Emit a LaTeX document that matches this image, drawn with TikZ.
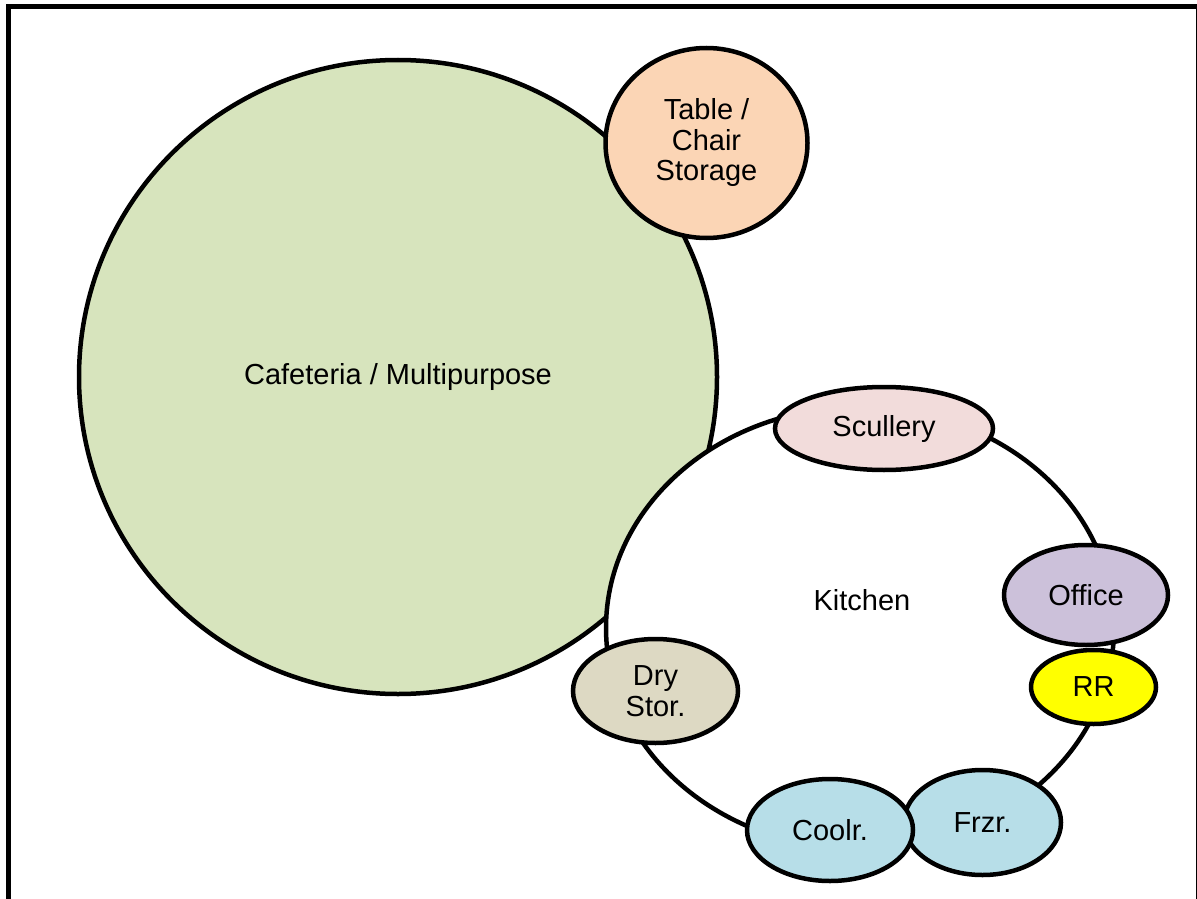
\documentclass[tikz,border=0pt]{standalone}
\usepackage{fontspec}
\setmainfont{Liberation Sans}
\usetikzlibrary{shapes.geometric}
\definecolor{cafegreen}{HTML}{D7E4BD}
\definecolor{storeorange}{HTML}{FBD5B5}
\definecolor{scullpink}{HTML}{F2DCDB}
\definecolor{officelilac}{HTML}{CCC1DA}
\definecolor{drytan}{HTML}{DDD9C3}
\definecolor{coldblue}{HTML}{B7DEE8}
\definecolor{rryellow}{HTML}{FFFF00}
\tikzset{
  roomtext/.style={font=\fontsize{29}{30.5}\selectfont},
  room/.style={ellipse, draw=black, line width=4.5pt, inner sep=0pt, align=center, roomtext},
}
\begin{document}
\begin{tikzpicture}[x=1pt, y=-1pt]
\useasboundingbox (0,0) rectangle (1197,899);
\fill[white] (0,0) rectangle (1197,899);
% outer frame
\draw[line width=5pt] (8.5,6.5) rectangle (1198,901);

% main spaces
\node[room, fill=cafegreen, minimum width=638pt, minimum height=634pt] (cafe) at (398,377) {Cafeteria / Multipurpose};
\node[room, fill=storeorange, minimum width=202pt, minimum height=190pt] (store) at (706.5,143) {Table /\\Chair\\Storage};
\node[room, fill=white, minimum width=508pt, minimum height=442pt] (kitchen) at (860,628) {};
\node[roomtext] (kitchenlabel) at (862,600) {Kitchen};

% kitchen support spaces
\node[room, fill=scullpink, minimum width=218pt, minimum height=83pt] (scullery) at (884,428.5) {Scullery};
\node[room, fill=drytan, minimum width=165pt, minimum height=104pt] (dry) at (655.5,691) {Dry\\Stor.};
\node[room, fill=rryellow, minimum width=125pt, minimum height=74pt] (rr) at (1093.5,687) {RR};
\node[room, fill=officelilac, minimum width=164pt, minimum height=100pt] (office) at (1086,595) {Office};
\node[room, fill=coldblue, minimum width=157pt, minimum height=105pt] (frzr) at (982.5,822.5) {Frzr.};
\node[room, fill=coldblue, minimum width=166pt, minimum height=102pt] (coolr) at (830,830) {Coolr.};
\end{tikzpicture}
\end{document}
